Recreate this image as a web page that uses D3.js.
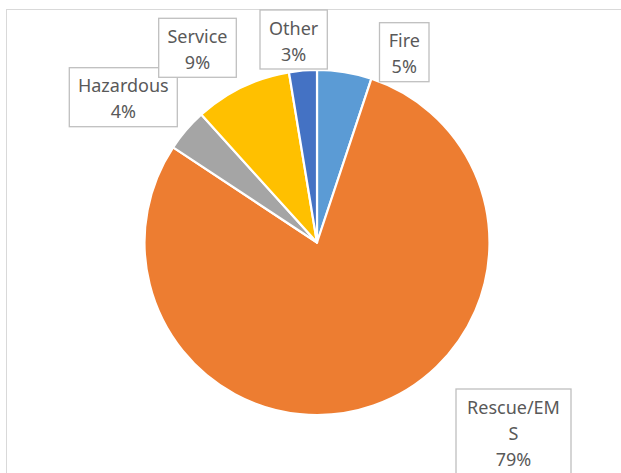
<!DOCTYPE html>
<html>
<head>
<meta charset="utf-8">
<script src="https://cdn.jsdelivr.net/npm/d3@7/dist/d3.min.js"></script>
<style>
  html, body { margin: 0; padding: 0; background: #fff; }
  svg { display: block; }
</style>
</head>
<body>
<svg id="chart" width="621" height="473"></svg>
<script>
// ---- data ----
const categories = ["Fire", "Rescue/EMS", "Hazardous", "Service", "Other"];
const values = [5.1, 79.2, 4.0, 9.1, 2.6];
const colors = ["#5B9BD5", "#ED7D31", "#A5A5A5", "#FFC000", "#4472C4"];

// ---- layout (label boxes placed as in the reference) ----
const labelBoxes = {
  "Fire":       { x: 379.5, y: 22.7, w: 49.5 },
  "Rescue/EMS": { x: 456,   y: 389,  w: 115 },
  "Hazardous":  { x: 69.3,  y: 67.7, w: 108 },
  "Service":    { x: 158.7, y: 18.3, w: 77.6 },
  "Other":      { x: 260,   y: 10,   w: 67.3 }
};
// draw order of boxes (later ones on top)
const boxOrder = ["Hazardous", "Service", "Other", "Fire", "Rescue/EMS"];

const W = 621, H = 473;
const cx = 317, cy = 242.5, R = 172.5;
const fontFamily = "'Noto Sans', 'Open Sans', sans-serif";
const fontSize = 18;
const lineH = 26;

const svg = d3.select("#chart");

// chart area border
svg.append("rect")
  .attr("x", 6.5).attr("y", 9.5)
  .attr("width", 800).attr("height", 800)
  .attr("fill", "#fff")
  .attr("stroke", "#D9D9D9")
  .attr("stroke-width", 1);

const data = categories.map((c, i) => ({ name: c, value: values[i], color: colors[i] }));
const total = d3.sum(values);
const pct = d3.format(".0%");

const pie = d3.pie().sort(null).value(d => d.value).startAngle(0).endAngle(2 * Math.PI);
const arc = d3.arc().innerRadius(0).outerRadius(R);

const g = svg.append("g").attr("transform", `translate(${cx},${cy})`);
g.selectAll("path")
  .data(pie(data))
  .join("path")
  .attr("d", arc)
  .attr("fill", d => d.data.color)
  .attr("stroke", "#fff")
  .attr("stroke-width", 2.2)
  .attr("stroke-linejoin", "round");

// labels
const labelG = svg.append("g");
const measurer = svg.append("text")
  .attr("font-family", fontFamily).attr("font-size", fontSize)
  .attr("visibility", "hidden");
function textWidth(s) { measurer.text(s); return measurer.node().getComputedTextLength(); }

function wrapChars(s, maxW) {
  const lines = [];
  let cur = "";
  for (const ch of s) {
    if (cur && textWidth(cur + ch) > maxW) { lines.push(cur); cur = ch; }
    else cur += ch;
  }
  if (cur) lines.push(cur);
  return lines;
}

boxOrder.forEach(name => {
  const d = data.find(e => e.name === name);
  const b = labelBoxes[name];
  const lines = wrapChars(d.name, b.w - 14).concat([pct(d.value / total)]);
  const h = lineH * lines.length + 7;
  labelG.append("rect")
    .attr("x", b.x).attr("y", b.y)
    .attr("width", b.w).attr("height", h)
    .attr("fill", "#fff")
    .attr("stroke", "#BFBFBF")
    .attr("stroke-width", 1.3);
  const t = labelG.append("text")
    .attr("font-family", fontFamily)
    .attr("font-size", fontSize)
    .attr("fill", "#595959")
    .attr("text-anchor", "middle");
  lines.forEach((ln, i) => {
    t.append("tspan")
      .attr("x", b.x + b.w / 2)
      .attr("y", b.y + 24.5 + i * lineH)
      .text(ln);
  });
});
measurer.remove();
</script>
</body>
</html>
